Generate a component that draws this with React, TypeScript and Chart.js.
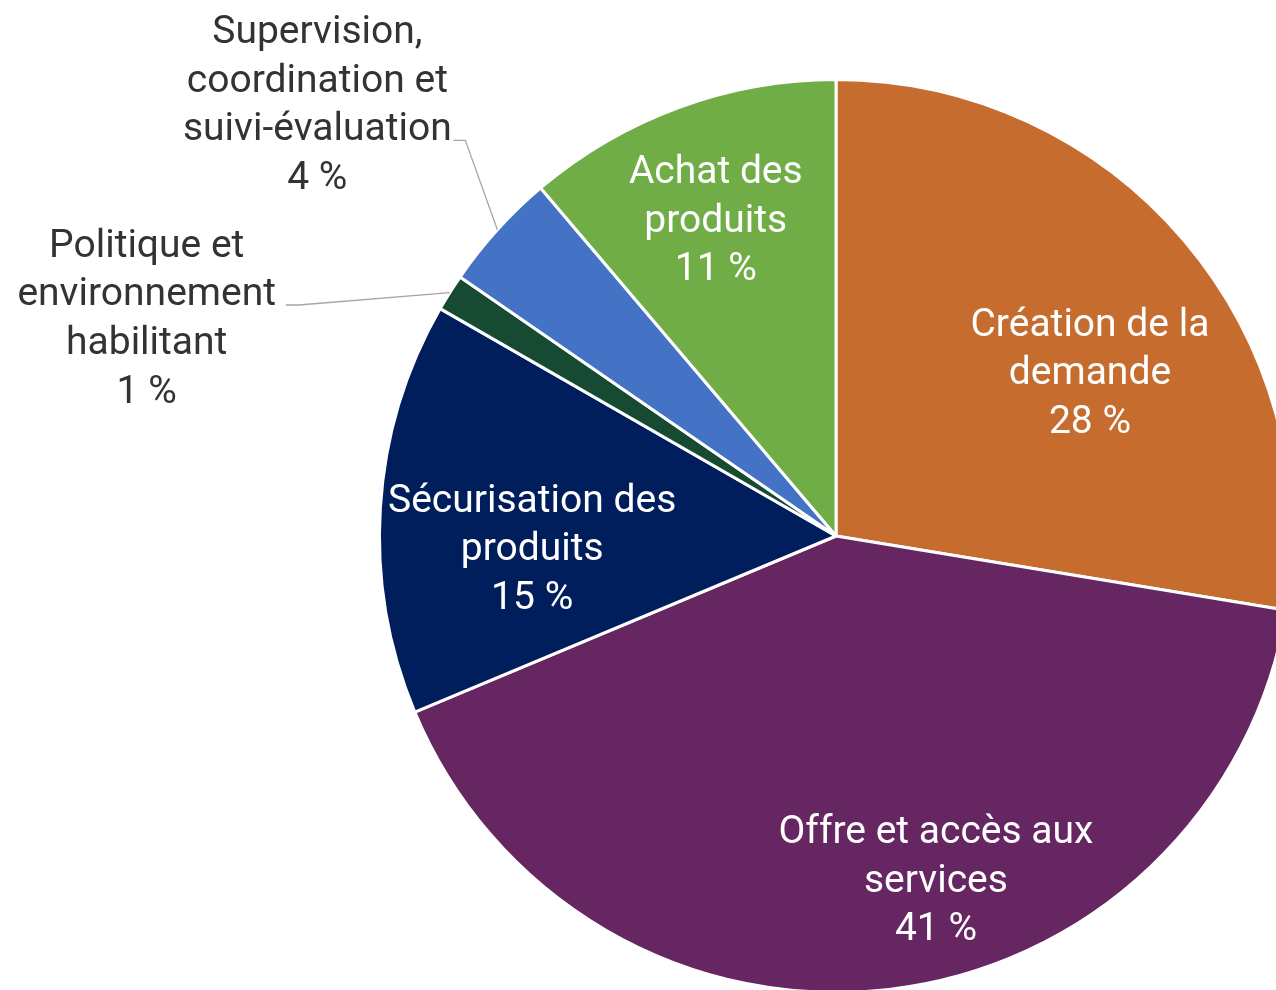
import React, { useEffect, useRef } from "react";
import { Chart, registerables } from "chart.js";

Chart.register(...registerables);

const categories = [
  "Création de la demande",
  "Offre et accès aux services",
  "Sécurisation des produits",
  "Politique et environnement habilitant",
  "Supervision, coordination et suivi-évaluation",
  "Achat des produits",
];
const values = [27.6, 41.1, 14.6, 1.3, 4.2, 11.2];
const labelLines = [
  ["Création de la", "demande"],
  ["Offre et accès aux", "services"],
  ["Sécurisation des", "produits"],
  ["Politique et", "environnement", "habilitant"],
  ["Supervision,", "coordination et", "suivi-évaluation"],
  ["Achat des", "produits"],
];
const colors = ["#C66C2E", "#662661", "#001E5C", "#174A32", "#4472C4", "#70AD47"];

// label placement styles (angle in degrees clockwise from top, radius as fraction of pie radius)
const labelPlacement = [
  { angle: 56.9, r: 0.664, inside: true },
  { angle: 163.7, r: 0.78, inside: true },
  { angle: 268.0, r: 0.666, inside: true },
  { angle: 287.7, r: 1.585, inside: false, elbow: [152, -15], end: [139, -15] },
  { angle: 309.9, r: 1.481, inside: false, elbow: [148, 34], end: [136, 34] },
  { angle: 339.3, r: 0.745, inside: true },
];

const FONT = "39px Roboto, 'Liberation Sans', sans-serif";
const LINE_H = 48.6;
const Y_SHIFT = 4;

const labelPlugin = {
  id: "pieLabels",
  afterDraw(chart: any) {
    const ctx = chart.ctx;
    const meta = chart.getDatasetMeta(0);
    ctx.save();
    ctx.font = FONT;
    ctx.textAlign = "center";
    ctx.textBaseline = "middle";
    meta.data.forEach((arc: any, i: number) => {
      const { x, y, outerRadius, startAngle, endAngle } = arc.getProps(
        ["x", "y", "outerRadius", "startAngle", "endAngle"],
        true
      );
      const p = labelPlacement[i];
      const a = (p.angle - 90) * (Math.PI / 180);
      const cx = x + Math.cos(a) * outerRadius * p.r;
      const cy = y + Math.sin(a) * outerRadius * p.r + Y_SHIFT;
      const lines = [...labelLines[i], Math.round(values[i]) + " %"];
      const n = lines.length;
      if (!p.inside && p.elbow && p.end) {
        const mid = (startAngle + endAngle) / 2;
        const ex = x + Math.cos(mid) * outerRadius;
        const ey = y + Math.sin(mid) * outerRadius;
        ctx.strokeStyle = "#A6A6A6";
        ctx.lineWidth = 1.3;
        ctx.beginPath();
        ctx.moveTo(ex, ey);
        ctx.lineTo(cx + p.elbow[0], cy + p.elbow[1]);
        ctx.lineTo(cx + p.end[0], cy + p.end[1]);
        ctx.stroke();
      }
      ctx.fillStyle = p.inside ? "#FFFFFF" : "#333333";
      lines.forEach((t, k) => {
        ctx.fillText(t, cx, cy + (k - (n - 1) / 2) * LINE_H);
      });
    });
    ctx.restore();
  },
};

export default function App() {
  const ref = useRef<HTMLCanvasElement>(null);
  useEffect(() => {
    if (!ref.current) return;
    const chart = new Chart(ref.current, {
      type: "pie",
      data: {
        labels: categories,
        datasets: [
          {
            data: values,
            backgroundColor: colors,
            borderColor: "#FFFFFF",
            borderWidth: 3,
          },
        ],
      },
      options: {
        responsive: false,
        animation: false,
        layout: { padding: { left: 378, top: 78, right: 6, bottom: 6 } },
        plugins: {
          legend: { display: false },
          tooltip: { enabled: false },
        },
      },
      plugins: [labelPlugin],
    });
    return () => chart.destroy();
  }, []);
  return (
    <div
      style={{
        position: "absolute",
        left: 0,
        top: 0,
        width: 1276,
        height: 990,
        overflow: "hidden",
        background: "#fff",
      }}
    >
      <canvas ref={ref} width={1300} height={1000} style={{ display: "block" }} />
    </div>
  );
}
